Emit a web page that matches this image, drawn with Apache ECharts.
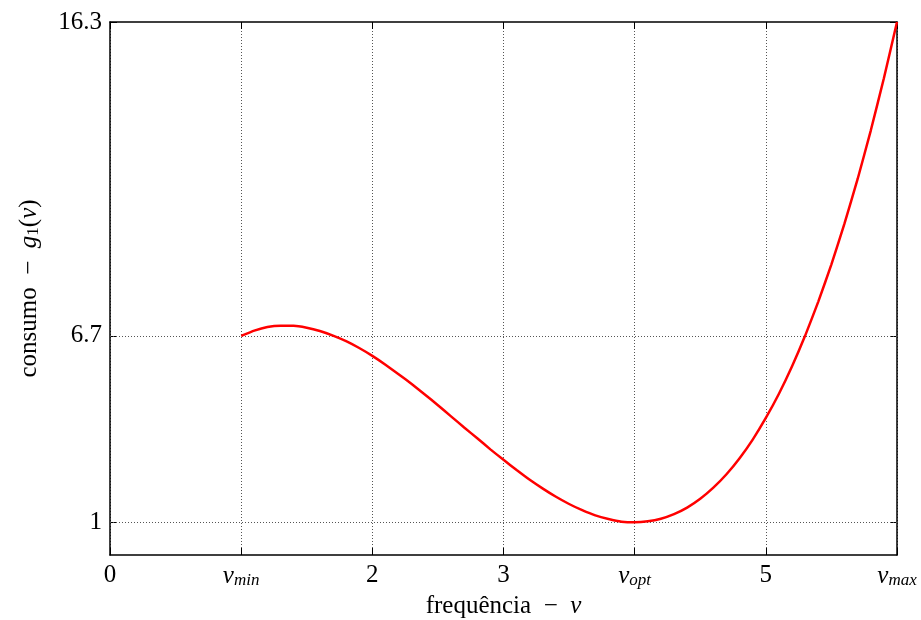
<!DOCTYPE html>
<html>
<head>
<meta charset="utf-8">
<script src="https://cdn.jsdelivr.net/npm/echarts@6/dist/echarts.min.js"></script>
<style>html,body{margin:0;padding:0;background:#fff}#c{width:921px;height:620px}</style>
</head>
<body>
<div id="c"></div>
<script>
// data
var xValues = [1.0,1.1,1.2,1.3,1.4,1.5,1.6,1.7,1.8,1.9,2.0,2.1,2.2,2.3,2.4,2.5,2.6,2.7,2.8,2.9,3.0,3.1,3.2,3.3,3.4,3.5,3.6,3.7,3.8,3.9,4.0,4.1,4.2,4.3,4.4,4.5,4.6,4.7,4.8,4.9,5.0,5.1,5.2,5.3,5.4,5.5,5.6,5.7,5.8,5.9,6.0];
var yValues = [6.70,6.86,6.97,7.01,7.01,6.95,6.85,6.71,6.54,6.33,6.09,5.82,5.53,5.23,4.91,4.58,4.24,3.90,3.57,3.23,2.91,2.60,2.30,2.03,1.78,1.56,1.37,1.21,1.10,1.02,1.00,1.03,1.11,1.25,1.45,1.72,2.06,2.47,2.96,3.53,4.19,4.93,5.77,6.71,7.75,8.89,10.14,11.50,12.98,14.58,16.30];
var xTickValues = [0,1,2,3,4,5,6];
var xTickLabels = ['0','{v|v}{s|min}','2','3','{v|v}{s|opt}','5','{v|v}{s|max}'];
var yTickValues = [1,6.7,16.3];
var yTickLabels = ['1','6.7','16.3'];
var xTitle = 'frequência  −  ';
var yTitle = 'consumo  −  ';

var FONT = 'Liberation Serif';
var FS = 25;
var pts = xValues.map(function(x,i){return [x,yValues[i]];});
var chart = echarts.init(document.getElementById('c'));
var labRich = {
  v:{fontFamily:FONT,fontStyle:'italic',fontSize:FS,color:'#000'},
  s:{fontFamily:FONT,fontStyle:'italic',fontSize:17,color:'#000',verticalAlign:'bottom',padding:[9,0,0,0]}
};
function xfmt(v){var i=xTickValues.indexOf(Math.round(v));return i>=0?xTickLabels[i]:'';}
var gridLine = {show:true,lineStyle:{color:'#555',type:[1,2],width:1}};
chart.setOption({
  animation:false,
  backgroundColor:'#fff',
  grid:{left:110,right:24,top:22,bottom:65,containLabel:false,outerBoundsMode:'none'},
  xAxis:[{
    type:'value',min:0,max:6,interval:1,position:'bottom',
    name:'{t|' + xTitle + '}{v|v}',nameLocation:'middle',nameGap:35,
    nameTextStyle:{rich:{t:{fontFamily:FONT,fontSize:FS,color:'#000'},v:{fontFamily:FONT,fontStyle:'italic',fontSize:FS,color:'#000'}}},
    axisLine:{show:true,onZero:false,lineStyle:{color:'#000',width:1.5}},
    axisTick:{show:true,inside:true,length:7,lineStyle:{color:'#000',width:1}},
    axisLabel:{show:true,formatter:xfmt,margin:8,fontFamily:FONT,fontSize:FS,color:'#000',rich:labRich},
    splitLine:gridLine
  },{
    type:'value',min:0,max:6,interval:1,position:'top',
    axisLine:{show:true,onZero:false,lineStyle:{color:'#000',width:1.5}},
    axisTick:{show:true,inside:true,length:7,lineStyle:{color:'#000',width:1}},
    axisLabel:{show:false},splitLine:{show:false}
  }],
  yAxis:[{
    type:'value',min:0,max:16.3,position:'left',
    name:'{t|' + yTitle + '}{v|g}{s|1}{t|(}{v|v}{t|)}',nameLocation:'middle',nameGap:68,nameRotate:90,
    nameTextStyle:{rich:{t:{fontFamily:FONT,fontSize:FS,color:'#000'},v:{fontFamily:FONT,fontStyle:'italic',fontSize:FS,color:'#000'},s:{fontFamily:FONT,fontSize:17,color:'#000',verticalAlign:'bottom',padding:[9,0,0,0]}}},
    axisLine:{show:true,onZero:false,lineStyle:{color:'#000',width:1.5}},
    axisTick:{show:true,inside:true,length:7,customValues:yTickValues,lineStyle:{color:'#000',width:1}},
    axisLabel:{show:true,customValues:yTickValues,formatter:function(v){var i=yTickValues.indexOf(Math.round(v*10)/10);return i>=0?yTickLabels[i]:'';},margin:8,fontFamily:FONT,fontSize:FS,color:'#000'},
    splitLine:{show:false}
  },{
    type:'value',min:0,max:16.3,position:'right',
    axisLine:{show:true,onZero:false,lineStyle:{color:'#000',width:1.5}},
    axisTick:{show:true,inside:true,length:7,customValues:yTickValues,lineStyle:{color:'#000',width:1}},
    axisLabel:{show:false},splitLine:{show:false}
  }],
  series:[{
    type:'line',data:pts,smooth:0.15,showSymbol:false,symbol:'none',
    lineStyle:{color:'#ff0000',width:2.5},z:5,
    markLine:{silent:true,symbol:'none',label:{show:false},
      lineStyle:{color:'#555',type:[1,2],width:1},
      data:yTickValues.slice(0,2).map(function(v){return {yAxis:v};}),z:1}
  }]
});
</script>
</body>
</html>
